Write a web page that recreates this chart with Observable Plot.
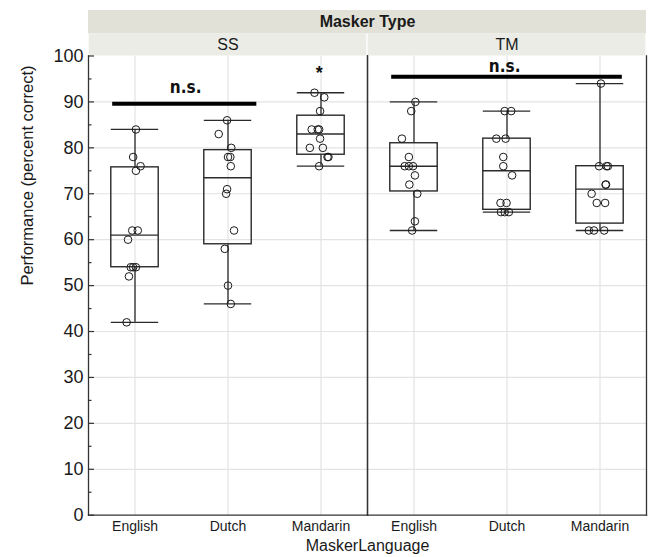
<!DOCTYPE html>
<html><head><meta charset="utf-8">
<script src="https://cdn.jsdelivr.net/npm/d3@7"></script>
<script src="https://cdn.jsdelivr.net/npm/@observablehq/plot@0.6"></script>
<style>body{margin:0;background:#fff}</style>
</head><body><div id="chart"></div>
<script>
// ---- data ----
const maskerTypes = ["SS", "TM"];
const languages = ["English", "Dutch", "Mandarin"];
const yMajorTicks = [0, 10, 20, 30, 40, 50, 60, 70, 80, 90, 100];
const yMinorTicks = [5, 15, 25, 35, 45, 55, 65, 75, 85, 95];

const ssEnglish  = [84, 78, 76, 75, 62, 62, 60, 54, 54, 54, 52, 42];
const ssDutch    = [86, 83, 80, 78, 78, 76, 71, 70, 62, 58, 50, 46];
const ssMandarin = [92, 91, 88, 84, 84, 84, 82, 80, 80, 78, 78, 76];
const tmEnglish  = [90, 88, 82, 78, 76, 76, 76, 74, 72, 70, 64, 62];
const tmDutch    = [88, 88, 82, 82, 78, 76, 74, 68, 68, 66, 66, 66];
const tmMandarin = [94, 76, 76, 76, 72, 72, 70, 68, 68, 62, 62, 62];

// horizontal jitter of each point (category units)
const ssEnglishJitter  = [0.01, -0.02, 0.06, 0.01, -0.03, 0.03, -0.075, -0.046, -0.02, 0.01, -0.065, -0.09];
const ssDutchJitter    = [-0.01, -0.10, 0.035, 0, 0.025, 0.03, -0.01, -0.02, 0.065, -0.035, 0, 0.03];
const ssMandarinJitter = [-0.07, 0.035, -0.01, -0.10, -0.035, -0.02, -0.01, -0.12, 0.02, 0.07, 0.08, -0.02];
const tmEnglishJitter  = [0.015, -0.03, -0.13, -0.055, -0.10, -0.055, -0.01, 0.01, -0.05, 0.035, 0.01, -0.02];
const tmDutchJitter    = [-0.025, 0.045, -0.115, -0.015, -0.04, -0.04, 0.055, -0.07, -0.005, -0.065, -0.025, 0.02];
const tmMandarinJitter = [0.01, -0.01, 0.07, 0.085, 0.06, 0.065, -0.09, -0.035, 0.055, -0.12, -0.065, 0.045];

// significance annotations
const sigBars = [
  {type: "SS", from: -0.24, to: 1.31, y: 89.6},
  {type: "TM", from: -0.24, to: 2.24, y: 95.5}
];
const sigLabels = [
  {type: "SS", x: 0.545, y: 93.2, text: "n.s."},
  {type: "TM", x: 0.975, y: 97.6, text: "n.s."}
];
const starLabels = [{type: "SS", x: 1.98, y: 96.2, text: "*"}];

// ---- build tables ----
const groups = [
  ["SS", 0, ssEnglish, ssEnglishJitter], ["SS", 1, ssDutch, ssDutchJitter], ["SS", 2, ssMandarin, ssMandarinJitter],
  ["TM", 0, tmEnglish, tmEnglishJitter], ["TM", 1, tmDutch, tmDutchJitter], ["TM", 2, tmMandarin, tmMandarinJitter]
];
function q6(s, p) {
  const n = s.length; const h = (n + 1) * p - 1;
  if (h <= 0) return s[0]; if (h >= n - 1) return s[n - 1];
  const lo = Math.floor(h); return s[lo] + (h - lo) * (s[lo + 1] - s[lo]);
}
const points = [], stats = [];
for (const [type, idx, vals, jit] of groups) {
  vals.forEach((v, i) => points.push({type, idx, value: v, jitter: jit[i]}));
  const s = vals.slice().sort(d3.ascending);
  const q1 = q6(s, 0.25), med = q6(s, 0.5), q3 = q6(s, 0.75), iqr = q3 - q1;
  const lo = d3.min(s.filter(v => v >= q1 - 1.5 * iqr));
  const hi = d3.max(s.filter(v => v <= q3 + 1.5 * iqr));
  stats.push({type, idx, q1, med, q3, lo, hi});
}

// ---- layout ----
const W = 655, H = 557, ML = 87.5, MR = 8.5, MT = 55.5, MB = 42.3;
const pxPerUnit = ((W - ML - MR) / 2) / 3;
const hw = 0.255; // half box width (category units)
const ink = "#2b2b2b";

const chart = Plot.plot({
  width: W, height: H, marginLeft: ML, marginRight: MR, marginTop: MT, marginBottom: MB,
  style: {fontFamily: "'Liberation Sans', Arial, sans-serif", background: "white", color: "#1a1a1a"},
  fx: {domain: maskerTypes, padding: 0, axis: null},
  x: {domain: [-0.5, 2.5], axis: null},
  y: {domain: [0, 100], axis: null},
  marks: [
    // header strips
    Plot.rect([0], {x1: -0.5, x2: 2.5, y1: 100, y2: 100, insetTop: -45.5, insetBottom: 22, fill: "#e1e1d7"}),
    Plot.rect([0], {x1: -0.5, x2: 2.5, y1: 100, y2: 100, insetTop: -22, insetLeft: 0.7, insetRight: 0.7, fill: "#ececE6"}),
    Plot.text(["Masker Type"], {fx: () => "SS", x: 2.5, y: 100, text: d => d, dy: -34, fontSize: 16, fontWeight: "bold", lineAnchor: "middle"}),
    Plot.text(maskerTypes, {fx: d => d, x: 1, y: 100, text: d => d, dy: -11, fontSize: 16, lineAnchor: "middle"}),
    // grid
    Plot.ruleY(yMajorTicks.filter(t => t > 0 && t < 100), {y: d => d, stroke: "#e3e3e3", strokeWidth: 1.2}),
    Plot.ruleX([0, 1, 2], {x: d => d, stroke: "#e3e3e3", strokeWidth: 1.2}),
    // whiskers
    Plot.ruleX(stats, {fx: "type", x: "idx", y1: "lo", y2: "q1", stroke: ink, strokeWidth: 1.3}),
    Plot.ruleX(stats, {fx: "type", x: "idx", y1: "q3", y2: "hi", stroke: ink, strokeWidth: 1.3}),
    Plot.ruleY(stats, {fx: "type", y: "lo", x1: d => d.idx - hw, x2: d => d.idx + hw, stroke: ink, strokeWidth: 1.3}),
    Plot.ruleY(stats, {fx: "type", y: "hi", x1: d => d.idx - hw, x2: d => d.idx + hw, stroke: ink, strokeWidth: 1.3}),
    // boxes
    Plot.rect(stats, {fx: "type", x1: d => d.idx - hw, x2: d => d.idx + hw, y1: "q1", y2: "q3", fill: "none", stroke: ink, strokeWidth: 1.4}),
    Plot.ruleY(stats, {fx: "type", y: "med", x1: d => d.idx - hw, x2: d => d.idx + hw, stroke: ink, strokeWidth: 1.4}),
    // points
    Plot.dot(points, {fx: "type", x: d => d.idx + d.jitter, y: "value", r: 3.8, fill: "none", stroke: "#1a1a1a", strokeWidth: 1}),
    // significance
    Plot.ruleY(sigBars, {fx: "type", y: "y", x1: "from", x2: "to", stroke: "black", strokeWidth: 4}),
    Plot.text(sigLabels, {fx: "type", x: "x", y: "y", text: "text", fontFamily: "'DejaVu Sans Condensed', 'DejaVu Sans', sans-serif", fontWeight: "bold", fontSize: 17, fill: "#111", lineAnchor: "middle"}),
    Plot.text(starLabels, {fx: "type", x: "x", y: "y", text: "text", fontWeight: "bold", fontSize: 18, fill: "#111", lineAnchor: "middle"}),
    // frame lines
    Plot.frame({anchor: "left", stroke: "#333", strokeWidth: 1.3}),
    Plot.frame({anchor: "right", stroke: "#333", strokeWidth: 1.3}),
    Plot.frame({anchor: "bottom", stroke: "#333", strokeWidth: 1.3}),
    // y ticks (inward)
    Plot.ruleY(yMajorTicks, {fx: () => "SS", y: d => d, x1: -0.5, x2: -0.5 + 6 / pxPerUnit, stroke: "#333", strokeWidth: 1.2}),
    Plot.ruleY(yMinorTicks, {fx: () => "SS", y: d => d, x1: -0.5, x2: -0.5 + 3.5 / pxPerUnit, stroke: "#333", strokeWidth: 1.2}),
    // axes labels
    Plot.axisY(yMajorTicks, {tickSize: 0, tickPadding: 5, fontSize: 18, label: null}),
    Plot.axisX([0, 1, 2], {tickFormat: i => languages[i], tickSize: 0, tickPadding: 6, fontSize: 14, label: null}),
    Plot.text(["Performance (percent correct)"], {fx: () => "SS", frameAnchor: "left", text: d => d, rotate: -90, dx: -61, fontSize: 16.5, lineAnchor: "middle"}),
    Plot.text(["MaskerLanguage"], {fx: () => "SS", x: 2.5, y: 0, text: d => d, dy: 31, fontSize: 16, lineAnchor: "middle"})
  ]
});
document.getElementById("chart").appendChild(chart);
</script>
</body></html>
